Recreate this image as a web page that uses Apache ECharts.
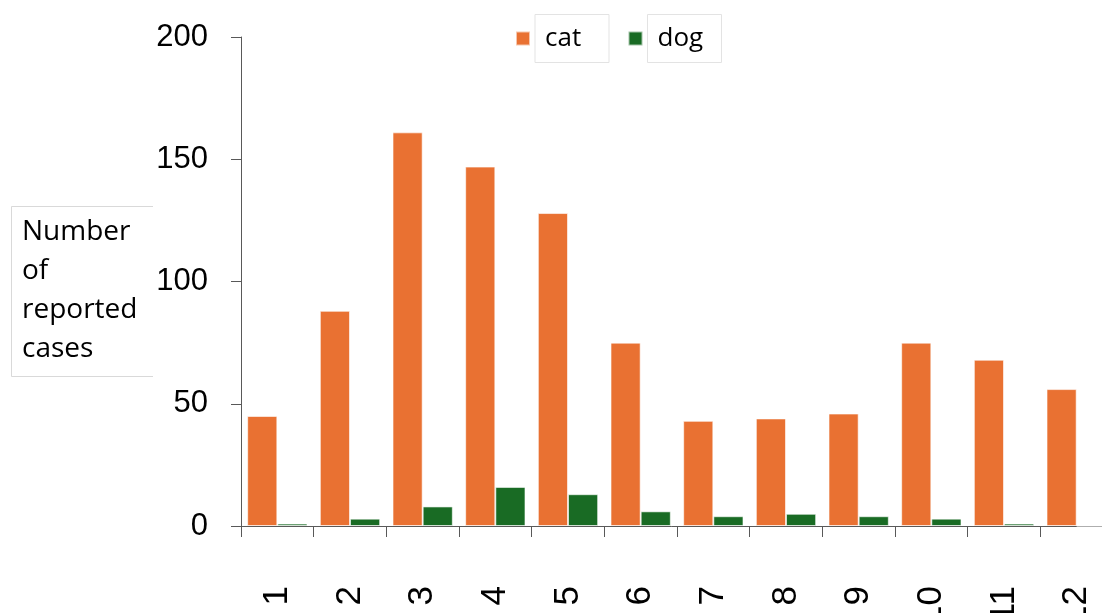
<!DOCTYPE html>
<html>
<head>
<meta charset="utf-8">
<title>Reported cases by month</title>
<script src="https://cdn.jsdelivr.net/npm/echarts@6/dist/echarts.min.js"></script>
<style>
  html, body { margin: 0; padding: 0; background: #fff; }
  #chart { width: 1102px; height: 613px; }
</style>
</head>
<body>
<div id="chart"></div>
<script>
// Monthly counts of reported cases
const months = ['1', '2', '3', '4', '5', '6', '7', '8', '9', '10', '11', '12'];
const catCases = [45, 88, 161, 147, 128, 75, 43, 44, 46, 75, 68, 56];
const dogCases = [1, 3, 8, 16, 13, 6, 4, 5, 4, 3, 1, 0];
const yTicks = [0, 50, 100, 150, 200];

const AXIS_COLOR = '#595959';
const labelFont = '"Liberation Sans", Arial, sans-serif';
const textFont = '"Open Sans", "Noto Sans", sans-serif';

const chart = echarts.init(document.getElementById('chart'), null, { renderer: 'canvas' });

chart.setOption({
  backgroundColor: '#ffffff',
  animation: false,
  grid: {
    left: 241, top: 37, width: 872, bottom: 87,
    containLabel: false,
    outerBoundsMode: 'none'
  },
  legend: {
    left: 510,
    top: 9,
    itemWidth: 14,
    itemHeight: 14,
    itemGap: 18,
    icon: 'rect',
    data: ['cat', 'dog'],
    textStyle: {
      fontFamily: textFont,
      fontSize: 26,
      color: '#000',
      borderColor: '#e3e3e3',
      borderWidth: 1,
      padding: [9, 10, 9, 10],
      width: 54,
      lineHeight: 30
    }
  },
  xAxis: {
    type: 'category',
    data: months,
    axisLine: { lineStyle: { color: AXIS_COLOR, width: 1 } },
    axisTick: { show: true, length: 11, lineStyle: { color: AXIS_COLOR } },
    axisLabel: {
      rotate: 90,
      margin: 60,
      fontFamily: labelFont,
      fontSize: 35,
      color: '#000',
      interval: 0
    }
  },
  yAxis: {
    type: 'value',
    min: yTicks[0],
    max: yTicks[yTicks.length - 1],
    interval: 50,
    splitLine: { show: false },
    axisLine: { show: true, lineStyle: { color: AXIS_COLOR, width: 1 } },
    axisTick: { show: true, length: 10, lineStyle: { color: AXIS_COLOR } },
    axisLabel: {
      margin: 33,
      fontFamily: labelFont,
      fontSize: 31,
      color: '#000'
    }
  },
  series: [
    {
      name: 'cat',
      type: 'bar',
      data: catCases,
      barGap: '0%',
      barCategoryGap: '17%',
      itemStyle: { color: '#E97132', borderColor: 'rgba(255,255,255,0.6)', borderWidth: 1 }
    },
    {
      name: 'dog',
      type: 'bar',
      data: dogCases,
      itemStyle: { color: '#196B24', borderColor: 'rgba(255,255,255,0.6)', borderWidth: 1 }
    }
  ],
  graphic: [
    // Axis title in an open-sided text box
    {
      type: 'polyline',
      shape: { points: [[153, 206.5], [11.5, 206.5], [11.5, 376.5], [153, 376.5]] },
      style: { stroke: '#d9d9d9', lineWidth: 1, fill: null },
      silent: true
    },
    {
      type: 'text',
      left: 22,
      top: 213,
      style: {
        text: 'Number\nof\nreported\ncases',
        fontFamily: textFont,
        fontSize: 28,
        lineHeight: 39,
        fill: '#000'
      },
      silent: true
    }
  ]
});
</script>
</body>
</html>
